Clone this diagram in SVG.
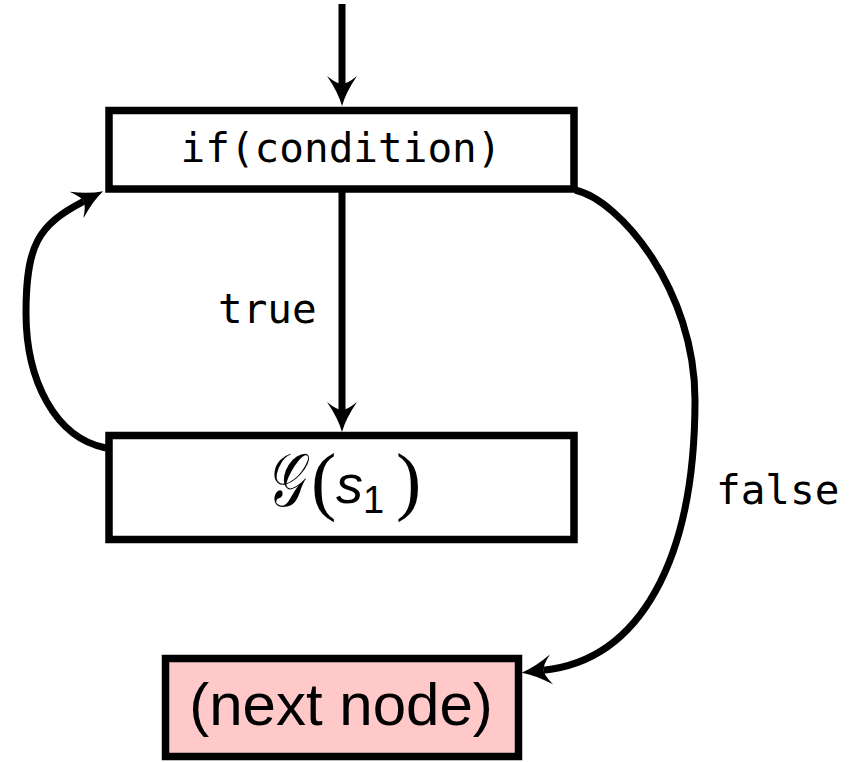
<svg xmlns="http://www.w3.org/2000/svg" width="853" height="762" viewBox="0 0 853 762">
<style>
.box{fill:#ffffff;stroke:#000;stroke-width:7.5}
.pink{fill:#ffc9c9;stroke:#000;stroke-width:7.5}
.edge{fill:none;stroke:#000;stroke-width:7}
.mono{font-family:"DejaVu Sans Mono","Liberation Mono",monospace;font-size:41px;fill:#000}
.sans{font-family:"Liberation Sans",Arial,sans-serif;fill:#000}
.serif{font-family:"Liberation Serif","DejaVu Serif",serif;fill:#000}
</style>
<defs>
<marker id="ah" markerUnits="userSpaceOnUse" viewBox="-10 -17 34 34" markerWidth="34" markerHeight="34" refX="0" refY="0" orient="auto">
<path d="M22,0 Q8,-4 -8,-15 Q0,-5 0,0 Q0,5 -8,15 Q8,4 22,0 Z" fill="#000"/>
</marker>
</defs>
<rect width="853" height="762" fill="#fff"/>
<g id="connectors">
<path class="edge" d="M342,4 L342,84" marker-end="url(#ah)"/>
<path class="edge" d="M342,192 L342,410" marker-end="url(#ah)"/>
<path class="edge" d="M106,448 C55,438 26,380 26,313 C26,245 38,225 83.6,201.3" marker-end="url(#ah)"/>
<path class="edge" d="M575,190 C620,200 695,290 695,400 C695,560 640,660 543.5,670.3" marker-end="url(#ah)"/>
<text class="mono" x="218" y="323">true</text>
<text class="mono" x="716" y="504">false</text>
</g>
<g id="node-if">
<rect class="box" x="109" y="110.5" width="465" height="78.5"/>
<text class="mono" x="341" y="162" text-anchor="middle">if(condition)</text>
</g>
<g id="node-g">
<rect class="box" x="109" y="435.5" width="465" height="104"/>
<text class="serif" transform="translate(266,506) scale(0.85,1.25)" x="0" y="0" font-size="60" font-style="italic">𝒢</text>
<text class="serif" x="311" y="506" font-size="76">(</text>
<text class="sans" x="336" y="503" font-size="54" font-style="italic">s</text>
<text class="sans" x="363" y="513" font-size="38">1</text>
<text class="serif" x="396" y="506" font-size="76">)</text>
</g>
<g id="node-next">
<rect class="pink" x="165.5" y="658.5" width="353" height="98"/>
<text class="sans" x="341" y="725" font-size="60" text-anchor="middle">(next node)</text>
</g>
</svg>
